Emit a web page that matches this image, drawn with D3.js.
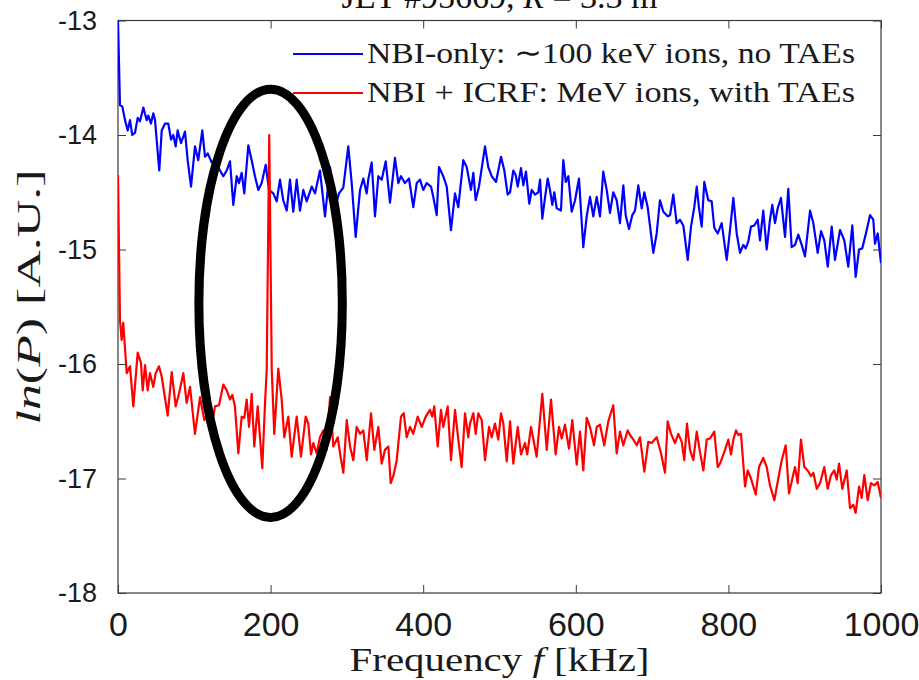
<!DOCTYPE html>
<html><head><meta charset="utf-8">
<script src="https://cdn.jsdelivr.net/npm/d3@7"></script>
<style>body{margin:0;background:#fff;overflow:hidden}</style>
</head><body><svg id="c" width="919" height="680"></svg>
<script>
const xTicks = [0, 200, 400, 600, 800, 1000];
const yTicks = [-13, -14, -15, -16, -17, -18];
const legendLabels = ["NBI-only: \u223C100 keV ions, no TAEs", "NBI + ICRF: MeV ions, with TAEs"];
const seriesColors = ["#0000ff", "#ff0000"];
// [frequency kHz, ln(P)]
const nbiOnly = [[0,-13.0],[2.6,-13.74],[5.6,-13.75],[9.2,-13.87],[12.7,-13.96],[15.7,-13.87],[18.7,-14.00],[22.3,-13.98],[25.8,-13.85],[28.8,-13.88],[33.2,-13.76],[37.6,-13.87],[39.7,-13.83],[43.2,-13.90],[46.3,-13.81],[48.5,-13.87],[54.1,-14.31],[57.3,-13.96],[61.6,-13.90],[65.9,-13.90],[69.5,-14.04],[72.5,-14.00],[75.6,-14.10],[78.2,-13.96],[82.6,-14.07],[87.8,-13.97],[91.3,-14.22],[95.7,-14.45],[100.9,-14.10],[105.2,-14.22],[110.5,-13.96],[114.0,-14.19],[117.6,-14.16],[122.8,-14.24],[127.1,-14.22],[133.7,-14.31],[138.0,-14.36],[142.5,-14.31],[146.8,-14.23],[151.1,-14.61],[155.6,-14.36],[158.6,-14.42],[162.1,-14.33],[165.5,-14.51],[170.8,-14.09],[175.2,-14.22],[179.5,-14.36],[183.9,-14.48],[188.3,-14.42],[193.6,-14.26],[197.9,-14.48],[203.5,-14.51],[208.0,-14.58],[212.3,-14.39],[216.6,-14.57],[221.1,-14.66],[225.4,-14.39],[229.7,-14.67],[234.2,-14.39],[238.5,-14.66],[242.9,-14.48],[247.3,-14.58],[253.9,-14.45],[258.2,-14.51],[264.7,-14.31],[271.3,-14.71],[277.9,-14.28],[284.4,-14.63],[289.6,-14.51],[295.3,-14.46],[301.8,-14.10],[306.3,-14.42],[311.5,-14.89],[317.2,-14.48],[321.5,-14.38],[326.0,-14.51],[328.0,-14.39],[332.5,-14.24],[336.8,-14.71],[341.2,-14.36],[345.6,-14.39],[350.9,-14.23],[356.5,-14.59],[363.0,-14.20],[367.4,-14.42],[370.9,-14.36],[376.1,-14.42],[381.4,-14.38],[387.0,-14.63],[391.5,-14.42],[395.8,-14.39],[400.1,-14.48],[404.6,-14.42],[410.2,-14.45],[413.2,-14.54],[417.7,-14.70],[420.7,-14.28],[426.3,-14.36],[430.8,-14.45],[436.4,-14.83],[441.7,-14.51],[446.0,-14.63],[452.6,-14.22],[457.0,-14.28],[462.6,-14.48],[465.7,-14.33],[468.8,-14.57],[473.1,-14.45],[481.0,-14.10],[485.3,-14.28],[489.8,-14.36],[495.4,-14.41],[502.0,-14.19],[506.3,-14.31],[510.7,-14.52],[513.8,-14.50],[518.1,-14.31],[521.2,-14.35],[523.9,-14.45],[528.2,-14.29],[531.2,-14.44],[534.7,-14.32],[539.0,-14.60],[542.2,-14.48],[546.5,-14.52],[550.9,-14.50],[553.1,-14.39],[556.1,-14.73],[559.6,-14.55],[563.2,-14.38],[566.2,-14.48],[569.2,-14.61],[571.8,-14.50],[575.0,-14.64],[580.6,-14.66],[583.6,-14.22],[586.8,-14.41],[590.2,-14.36],[594.6,-14.67],[599.0,-14.57],[604.2,-14.38],[609.8,-14.98],[614.3,-14.71],[618.6,-14.54],[622.9,-14.71],[627.4,-14.54],[631.7,-14.71],[636.0,-14.32],[640.5,-14.48],[644.8,-14.68],[649.1,-14.50],[653.6,-14.57],[657.9,-14.77],[662.3,-14.44],[665.4,-14.70],[669.7,-14.82],[674.0,-14.70],[677.6,-14.66],[681.9,-14.44],[686.4,-14.64],[689.8,-14.50],[694.2,-14.63],[701.6,-15.03],[706.0,-14.86],[710.3,-14.57],[714.7,-14.67],[720.4,-14.71],[723.5,-14.70],[727.8,-14.52],[732.2,-14.77],[736.6,-14.74],[740.9,-14.79],[746.7,-15.09],[751.0,-14.80],[755.3,-14.63],[758.5,-14.45],[761.5,-14.64],[765.0,-14.80],[768.4,-14.41],[773.6,-14.57],[778.1,-14.58],[781.5,-14.81],[786.0,-14.86],[791.2,-14.77],[797.8,-15.09],[802.1,-14.83],[806.5,-14.55],[810.9,-14.86],[815.2,-15.03],[819.5,-14.96],[822.7,-14.99],[826.1,-14.93],[829.6,-14.80],[833.9,-14.79],[838.4,-14.74],[841.4,-14.92],[845.7,-14.66],[850.2,-15.00],[854.5,-14.74],[857.5,-14.61],[861.1,-14.77],[864.6,-14.64],[868.9,-14.55],[874.2,-14.89],[878.5,-14.47],[882.9,-14.98],[887.3,-14.96],[891.6,-14.87],[896.1,-14.96],[900.4,-15.06],[907.0,-14.66],[911.3,-14.77],[917.0,-15.03],[921.4,-14.84],[925.7,-14.92],[930.2,-15.15],[935.4,-14.80],[939.7,-15.09],[946.3,-14.83],[951.9,-14.92],[957.1,-15.15],[962.4,-14.79],[966.8,-15.24],[971.2,-15.00],[975.5,-14.99],[979.9,-14.87],[985.6,-14.70],[989.9,-14.74],[992.1,-14.95],[995.7,-14.86],[1000,-15.12]];
const nbiIcrf = [[0,-14.35],[2.6,-15.62],[4.8,-15.79],[6.9,-15.64],[11.4,-16.08],[15.7,-16.02],[20.1,-16.37],[25.8,-15.90],[30.1,-15.99],[32.4,-16.23],[35.4,-16.01],[38.9,-16.23],[41.9,-16.08],[46.3,-16.20],[49.4,-16.08],[53.7,-16.02],[57.3,-16.11],[65.1,-16.45],[70.4,-16.07],[75.6,-16.37],[79.9,-16.26],[85.6,-16.08],[90.0,-16.34],[94.4,-16.20],[100.9,-16.61],[107.5,-16.29],[113.1,-16.49],[118.3,-16.40],[122.8,-16.55],[127.1,-16.37],[132.4,-16.36],[138.0,-16.18],[142.5,-16.23],[146.8,-16.31],[149.8,-16.27],[153.3,-16.37],[157.7,-16.78],[162.1,-16.46],[165.5,-16.47],[168.7,-16.31],[171.7,-16.55],[175.2,-16.26],[178.6,-16.72],[183.1,-16.37],[189.1,-16.91],[192.7,-16.34],[194.9,-16.05],[198.2,-14.00],[201.5,-16.05],[204.8,-16.61],[210.1,-16.04],[214.5,-16.31],[217.9,-16.64],[223.2,-16.46],[227.6,-16.81],[234.2,-16.46],[239.8,-16.81],[246.0,-16.46],[249.4,-16.52],[253.0,-16.79],[256.0,-16.69],[260.4,-16.78],[264.7,-16.64],[269.1,-16.58],[273.5,-16.75],[277.9,-16.29],[282.2,-16.72],[288.0,-16.64],[291.0,-16.78],[295.3,-16.95],[299.8,-16.49],[304.1,-16.72],[308.4,-16.84],[312.8,-16.55],[317.2,-16.61],[321.5,-16.58],[326.0,-16.84],[331.6,-16.43],[335.9,-16.75],[341.2,-16.55],[345.6,-16.87],[349.9,-16.75],[354.3,-16.72],[357.4,-17.04],[360.8,-16.98],[365.3,-16.84],[370.9,-16.46],[374.4,-16.43],[378.4,-16.64],[382.7,-16.55],[387.0,-16.61],[392.8,-16.46],[398.0,-16.55],[403.3,-16.46],[408.9,-16.40],[411.9,-16.46],[414.5,-16.37],[419.0,-16.72],[423.3,-16.40],[426.3,-16.55],[432.1,-16.37],[436.4,-16.84],[441.7,-16.40],[446.0,-16.66],[450.4,-16.90],[454.8,-16.43],[459.1,-16.64],[461.3,-16.52],[465.7,-16.43],[468.8,-16.61],[472.2,-16.43],[476.7,-16.49],[481.0,-16.84],[486.3,-16.55],[489.8,-16.64],[494.1,-16.52],[498.4,-16.66],[502.0,-16.43],[505.0,-16.52],[509.5,-16.85],[513.8,-16.50],[518.1,-16.87],[523.9,-16.55],[528.2,-16.79],[533.4,-16.69],[536.4,-16.79],[541.3,-16.55],[548.7,-16.81],[556.1,-16.26],[561.9,-16.75],[567.5,-16.31],[573.6,-16.79],[578.0,-16.55],[581.5,-16.65],[585.8,-16.53],[591.1,-16.74],[595.4,-16.49],[601.2,-16.88],[605.5,-16.59],[609.8,-16.93],[614.3,-16.47],[618.6,-16.55],[623.9,-16.71],[627.4,-16.55],[631.7,-16.53],[637.3,-16.71],[642.6,-16.50],[649.1,-16.36],[653.6,-16.78],[657.9,-16.59],[662.3,-16.71],[668.0,-16.58],[671.1,-16.62],[675.4,-16.66],[679.9,-16.71],[684.2,-16.64],[689.8,-16.94],[695.0,-16.68],[699.5,-16.69],[706.0,-16.64],[711.7,-16.78],[716.9,-16.95],[720.4,-16.50],[724.8,-16.61],[730.0,-16.69],[734.4,-16.61],[738.8,-16.68],[742.2,-16.84],[745.7,-16.52],[749.7,-16.75],[754.0,-16.84],[758.5,-16.59],[762.8,-16.77],[767.2,-16.93],[771.6,-16.66],[775.9,-16.65],[781.5,-16.59],[786.0,-16.90],[789.0,-16.87],[795.6,-16.75],[799.9,-16.66],[803.4,-16.79],[806.5,-16.66],[810.0,-16.58],[813.0,-16.62],[816.5,-16.61],[821.8,-17.07],[825.3,-16.93],[829.6,-17.00],[835.8,-17.14],[840.1,-16.90],[845.7,-16.82],[850.2,-16.90],[854.5,-17.06],[860.2,-17.19],[865.4,-17.00],[869.9,-16.84],[875.1,-16.71],[879.4,-17.13],[883.8,-17.00],[887.3,-16.90],[890.8,-17.04],[895.1,-16.66],[899.5,-16.90],[903.9,-16.93],[908.3,-16.98],[911.3,-16.95],[915.8,-17.09],[920.1,-17.04],[925.7,-16.90],[930.2,-17.09],[934.5,-16.97],[938.8,-16.93],[942.0,-17.01],[945.0,-16.87],[949.3,-17.09],[955.1,-16.93],[959.4,-17.26],[963.7,-17.23],[966.8,-17.30],[971.2,-17.07],[974.7,-17.17],[978.1,-16.97],[982.6,-17.19],[986.9,-17.04],[991.2,-17.06],[995.7,-17.03],[1000,-17.17]];
// annotation ellipse around the TAE peak (data units)
const ellipseCenter = [200, -15.47];
const ellipseRadii = [94, 1.87];

const svg = d3.select("#c");
const L = 118, R = 881, T = 20.5, B = 593;
const x = d3.scaleLinear().domain([0, 1000]).range([L, R]);
const y = d3.scaleLinear().domain([-18, -13]).range([B, T]);
const axisColor = "#3a3a3a";

svg.append("defs").append("clipPath").attr("id", "clip")
  .append("rect").attr("x", L).attr("y", T).attr("width", R - L).attr("height", B - T);

// Title (partially cut off at top)
const tt = svg.append("text").attr("x", (L + R) / 2).attr("y", 8).attr("text-anchor", "middle")
  .attr("font-family", "'Liberation Serif', serif").attr("font-size", 34).attr("fill", "#111");
tt.append("tspan").text("JET #95669, ");
tt.append("tspan").attr("font-style", "italic").text("R");
tt.append("tspan").text(" = 3.3 m");

// Axes
function styleAxis(g) {
  g.select(".domain").remove();
  g.selectAll(".tick line").attr("stroke", axisColor).attr("stroke-width", 1);
}
svg.append("g").attr("transform", `translate(0,${B})`)
  .call(d3.axisBottom(x).tickValues(xTicks).tickSize(-8).tickPadding(19).tickFormat(d => String(d)))
  .call(styleAxis)
  .call(g => g.selectAll("text").attr("font-family", "'Liberation Sans', Arial, sans-serif").attr("font-size", 34).attr("fill", "#1a1a1a"));
svg.append("g").attr("transform", `translate(0,${T})`)
  .call(d3.axisTop(x).tickValues(xTicks).tickSize(-8).tickFormat(""))
  .call(styleAxis);
svg.append("g").attr("transform", `translate(${L},0)`)
  .call(d3.axisLeft(y).tickValues(yTicks).tickSize(-8).tickPadding(21).tickFormat(d => String(d)))
  .call(styleAxis)
  .call(g => g.selectAll("text").attr("font-family", "'Liberation Sans', Arial, sans-serif").attr("font-size", 27).attr("fill", "#1a1a1a"));
svg.append("g").attr("transform", `translate(${R},0)`)
  .call(d3.axisRight(y).tickValues(yTicks).tickSize(-8).tickFormat(""))
  .call(styleAxis);
svg.append("rect").attr("x", L).attr("y", T).attr("width", R - L).attr("height", B - T)
  .attr("fill", "none").attr("stroke", axisColor).attr("stroke-width", 1.2);

// Lines
const line = d3.line().x(d => x(d[0])).y(d => y(d[1]));
const plot = svg.append("g").attr("clip-path", "url(#clip)");
[nbiOnly, nbiIcrf].forEach((s, i) => {
  plot.append("path").datum(s).attr("d", line).attr("fill", "none")
    .attr("stroke", seriesColors[i]).attr("stroke-width", 2.2).attr("stroke-linejoin", "round");
});

// Legend
const legY = [54, 93];
legendLabels.forEach((lab, i) => {
  svg.append("line").attr("x1", 293).attr("x2", 363).attr("y1", legY[i]).attr("y2", legY[i])
    .attr("stroke", seriesColors[i]).attr("stroke-width", 2);
  svg.append("text").attr("x", 367).attr("y", legY[i] + 9)
    .attr("font-family", "'Liberation Serif', serif").attr("font-size", 30).attr("fill", "#1a1a1a")
    .attr("textLength", 488).attr("lengthAdjust", "spacingAndGlyphs").text(lab);
});

// Axis labels
const xl = svg.append("text").attr("x", (L + R) / 2).attr("y", 671).attr("text-anchor", "middle")
  .attr("font-family", "'Liberation Serif', serif").attr("font-size", 33).attr("fill", "#1a1a1a")
  .attr("textLength", 300).attr("lengthAdjust", "spacingAndGlyphs");
xl.append("tspan").text("Frequency ");
xl.append("tspan").attr("font-style", "italic").text("f");
xl.append("tspan").text(" [kHz]");

const yl = svg.append("text").attr("transform", "translate(40,297) rotate(-90)").attr("text-anchor", "middle")
  .attr("font-family", "'Liberation Serif', serif").attr("font-size", 33).attr("fill", "#1a1a1a")
  .attr("textLength", 255).attr("lengthAdjust", "spacingAndGlyphs");
yl.append("tspan").attr("font-style", "italic").text("ln");
yl.append("tspan").text("(");
yl.append("tspan").attr("font-style", "italic").text("P");
yl.append("tspan").text(") [A.U.]");

// Annotation ellipse
svg.append("ellipse")
  .attr("cx", x(ellipseCenter[0])).attr("cy", y(ellipseCenter[1]))
  .attr("rx", x(ellipseCenter[0] + ellipseRadii[0]) - x(ellipseCenter[0]))
  .attr("ry", y(ellipseCenter[1]) - y(ellipseCenter[1] + ellipseRadii[1]))
  .attr("fill", "none").attr("stroke", "#000").attr("stroke-width", 9);
</script></body></html>
